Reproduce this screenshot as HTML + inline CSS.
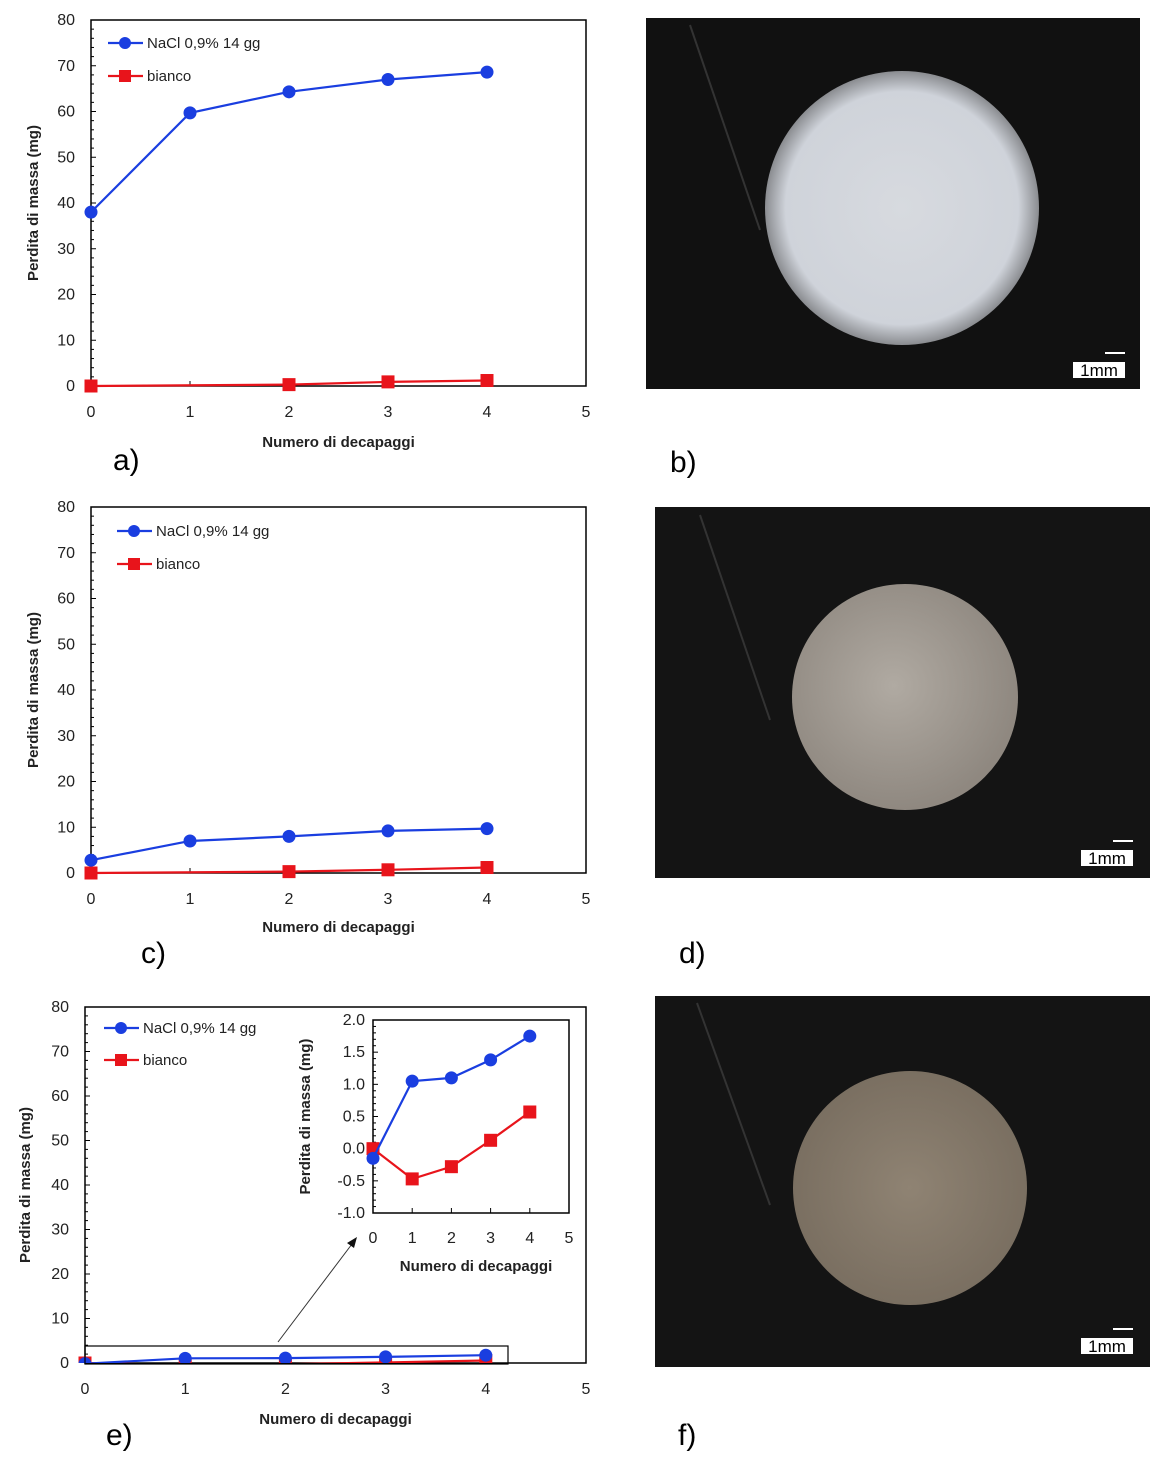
<!DOCTYPE html>
<html><head><meta charset="utf-8">
<style>
body{margin:0;width:1150px;height:1466px;background:#fff;overflow:hidden;font-family:"Liberation Sans",sans-serif}
svg{position:absolute;left:0;top:0}
</style></head>
<body>
<svg id="fig" width="1150" height="1466" xmlns="http://www.w3.org/2000/svg">
<defs>
<radialGradient id="gb" cx="50%" cy="50%" r="50%"><stop offset="0" stop-color="#d7dadf"/><stop offset="0.85" stop-color="#cfd3da"/><stop offset="1" stop-color="#8a8c90"/></radialGradient>
<radialGradient id="gd" cx="45%" cy="45%" r="55%"><stop offset="0" stop-color="#b0aaa2"/><stop offset="1" stop-color="#8f8880"/></radialGradient>
<radialGradient id="gf" cx="50%" cy="50%" r="50%"><stop offset="0" stop-color="#8f8373"/><stop offset="1" stop-color="#7a6f61"/></radialGradient>
</defs>
<g>
<rect x="646" y="18" width="494" height="371" fill="#111"/>
<line x1="690" y1="25" x2="760" y2="230" stroke="#333" stroke-width="2"/>
<circle cx="902" cy="208" r="137" fill="url(#gb)"/>
<rect x="1073" y="362" width="52" height="16" fill="#fff"/>
<line x1="1105" y1="353" x2="1125" y2="353" stroke="#fff" stroke-width="2"/>
<text x="1099" y="376" font-size="17" text-anchor="middle" fill="#000">1mm</text>
</g>
<g>
<rect x="655" y="507" width="495" height="371" fill="#141414"/>
<line x1="700" y1="515" x2="770" y2="720" stroke="#333" stroke-width="2"/>
<circle cx="905" cy="697" r="113" fill="url(#gd)"/>
<rect x="1081" y="850" width="52" height="16" fill="#fff"/>
<line x1="1113" y1="841" x2="1133" y2="841" stroke="#fff" stroke-width="2"/>
<text x="1107" y="864" font-size="17" text-anchor="middle" fill="#000">1mm</text>
</g>
<g>
<rect x="655" y="996" width="495" height="371" fill="#141414"/>
<line x1="697" y1="1003" x2="770" y2="1205" stroke="#333" stroke-width="2"/>
<circle cx="910" cy="1188" r="117" fill="url(#gf)"/>
<rect x="1081" y="1338" width="52" height="16" fill="#fff"/>
<line x1="1113" y1="1329" x2="1133" y2="1329" stroke="#fff" stroke-width="2"/>
<text x="1107" y="1352" font-size="17" text-anchor="middle" fill="#000">1mm</text>
</g>
<g font-size="30" fill="#000">
<text x="113" y="470">a)</text>
<text x="670" y="472">b)</text>
<text x="141" y="963">c)</text>
<text x="679" y="963">d)</text>
<text x="106" y="1445">e)</text>
<text x="678" y="1445">f)</text>
</g>
</svg>
<script>
const xCats=[0,1,2,3,4];
const aBlue=[38,59.7,64.3,67,68.6];
const aRed=[0,null,0.3,0.9,1.2];
const cBlue=[2.8,7,8,9.2,9.7];
const cRed=[0,null,0.3,0.7,1.2];
const eBlue=[-0.15,1.05,1.1,1.38,1.75];
const eRed=[0,-0.47,-0.28,0.13,0.57];
const mainYTicks=[0,10,20,30,40,50,60,70,80];
const insetYTicks=[-1.0,-0.5,0.0,0.5,1.0,1.5,2.0];
const xTicks=[0,1,2,3,4,5];

const NS='http://www.w3.org/2000/svg';
const fig=document.getElementById('fig');
function mk(tag,attrs,parent,txt){const e=document.createElementNS(NS,tag);for(const k in attrs)e.setAttribute(k,attrs[k]);if(txt!==undefined)e.textContent=txt;(parent||fig).appendChild(e);return e;}
let clipN=0;
function chart(o){
  const g=mk('g',{});
  
  
  const xs=v=>o.x0+(v-0)/(5)*(o.x1-o.x0);
  const ys=v=>o.y1-(v-o.ymin)/(o.ymax-o.ymin)*(o.y1-o.y0);
  mk('rect',{x:o.x0,y:o.y0,width:o.x1-o.x0,height:o.y1-o.y0,fill:'none',stroke:'#000','stroke-width':1.5},g);
  const yt=o.yTicks;
  yt.forEach((t,i)=>{
    const y=ys(t);
    const tl=mk('text',{x:o.x0-o.lblGap,y:y+5,'font-size':o.fs+1,'text-anchor':'end',fill:'#222'},g,o.dec?t.toFixed(1):t);
    
    
    mk('line',{x1:o.x0,y1:y,x2:o.x0+5,y2:y,stroke:'#000'},g);
    if(i<yt.length-1){for(let k=1;k<5;k++){const yy=ys(t+(yt[1]-yt[0])*k/5);mk('line',{x1:o.x0,y1:yy,x2:o.x0+3,y2:yy,stroke:'#000'},g);}}
  });
  xTicks.forEach(t=>{
    const x=xs(t);
    mk('line',{x1:x,y1:o.y1,x2:x,y2:o.y1-5,stroke:'#000'},g);
    const tl=mk('text',{x:x,y:o.y1+o.xGap,'font-size':o.fs+1,'text-anchor':'middle',fill:'#222'},g,t);
    
    
  });
  const xt=mk('text',{x:(o.x0+o.x1)/2+o.xtOff,y:o.y1+o.xtGap,'font-size':o.fs,'font-weight':'bold','text-anchor':'middle',fill:'#222'},g,'Numero di decapaggi');
  
  
  const cy=(o.y0+o.y1)/2;
  const yT=mk('text',{x:o.ytX,y:cy,'font-size':o.fs,'font-weight':'bold','text-anchor':'middle',fill:'#222',transform:`rotate(-90 ${o.ytX} ${cy})`},g,'Perdita di massa (mg)');
  
  
  const id='c'+(clipN++);
  const cp=mk('clipPath',{id:id},g);
  mk('rect',{x:o.x0-10,y:o.y0-10,width:o.x1-o.x0+20,height:o.y1-o.y0+10+o.clipExtra},cp);
  const sg=mk('g',{'clip-path':`url(#${id})`},g);
  [[o.red,'#e8141b','sq','series-bianco'],[o.blue,'#1a3ee0','ci','series-nacl']].forEach(([arr,col,sh,nm])=>{
    const s=mk('g',{},sg);
    
    
    const pts=[];
    arr.forEach((v,i)=>{if(v!==null)pts.push(xs(xCats[i])+','+ys(v));});
    mk('polyline',{points:pts.join(' '),fill:'none',stroke:col,'stroke-width':2.2},s);
    arr.forEach((v,i)=>{
      if(v===null)return;
      let m;
      if(sh==='ci')m=mk('circle',{cx:xs(xCats[i]),cy:ys(v),r:o.mr,fill:col},s);
      else m=mk('rect',{x:xs(xCats[i])-o.mr,y:ys(v)-o.mr,width:2*o.mr,height:2*o.mr,fill:col},s);
      
      
    });
  });
  if(o.leg){
    const L=o.leg;
    [[L.y1,'#1a3ee0','ci','NaCl 0,9% 14 gg'],[L.y2,'#e8141b','sq','bianco']].forEach(([y,col,sh,t])=>{
      const le=mk('g',{},g);
      
      
      mk('line',{x1:L.x,y1:y,x2:L.x+35,y2:y,stroke:col,'stroke-width':2.2},le);
      if(sh==='ci')mk('circle',{cx:L.x+17,cy:y,r:6,fill:col},le);
      else mk('rect',{x:L.x+11,y:y-6,width:12,height:12,fill:col},le);
      mk('text',{x:L.x+39,y:y+5,'font-size':15,fill:'#222'},le,t);
    });
  }
  return {xs,ys,g};
}
chart({name:'chart-a',x0:91,x1:586,y0:20,y1:386,ymin:0,ymax:80,yTicks:mainYTicks,blue:aBlue,red:aRed,fs:15,lblGap:16,xGap:31,xtGap:61,xtOff:0,ytX:38,mr:6.5,clipExtra:10,leg:{x:108,y1:43,y2:76}});
chart({name:'chart-c',x0:91,x1:586,y0:507,y1:873,ymin:0,ymax:80,yTicks:mainYTicks,blue:cBlue,red:cRed,fs:15,lblGap:16,xGap:31,xtGap:59,xtOff:0,ytX:38,mr:6.5,clipExtra:10,leg:{x:117,y1:531,y2:564}});
chart({name:'chart-e',x0:85,x1:586,y0:1007,y1:1363,ymin:0,ymax:80,yTicks:mainYTicks,blue:eBlue,red:eRed,fs:15,lblGap:16,xGap:31,xtGap:61,xtOff:0,ytX:30,mr:6.5,clipExtra:0,leg:{x:104,y1:1028,y2:1060}});
chart({name:'chart-e-inset',x0:373,x1:569,y0:1020,y1:1213,ymin:-1,ymax:2,yTicks:insetYTicks,dec:true,blue:eBlue,red:eRed,fs:15,lblGap:8,xGap:30,xtGap:58,xtOff:5,ytX:310,mr:6.5,clipExtra:10});
const hl=mk('rect',{x:85,y:1346,width:423,height:18,fill:'none',stroke:'#000','stroke-width':1.2});


const ar=mk('g',{});


mk('line',{x1:278,y1:1342,x2:352,y2:1244,stroke:'#333','stroke-width':1},ar);
mk('polygon',{points:'357,1237 347,1243 354,1248',fill:'#111'},ar);
</script>
</body></html>
